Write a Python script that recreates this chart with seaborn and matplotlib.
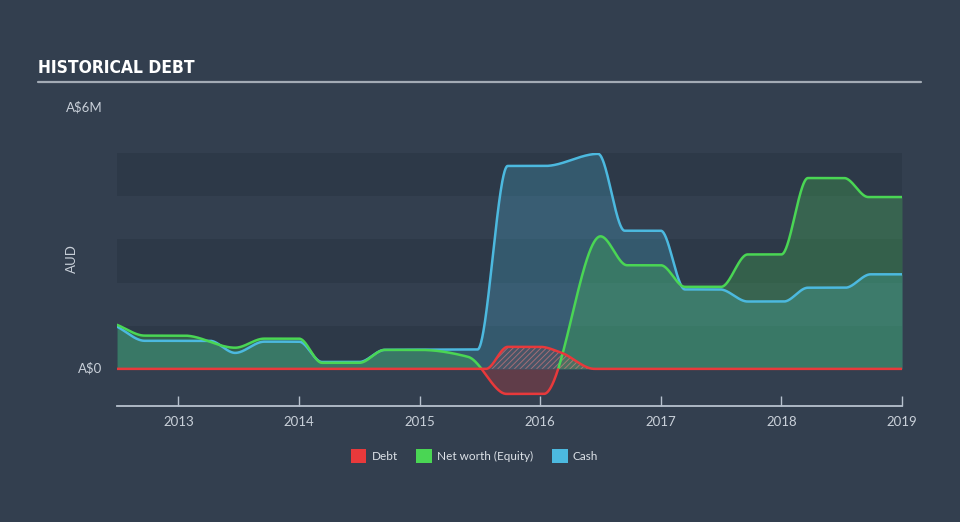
import numpy as np
import pandas as pd
import matplotlib
matplotlib.use("Agg")
import matplotlib.pyplot as plt
import seaborn as sns
from matplotlib.patches import Patch
from matplotlib.lines import Line2D
from matplotlib import font_manager as fm

# ---------------- data (AUD millions, x = year fraction) ----------------
cash_t = [2012.49, 2012.72, 2013.26, 2013.47, 2013.71, 2014.00, 2014.19, 2014.50,
          2014.71, 2015.48, 2015.73, 2016.04, 2016.48, 2016.70, 2017.00, 2017.20,
          2017.49, 2017.72, 2018.02, 2018.22, 2018.53, 2018.74, 2019.00]
cash_v = [0.98, 0.65, 0.65, 0.37, 0.63, 0.63, 0.16, 0.16,
          0.44, 0.45, 4.70, 4.70, 4.98, 3.20, 3.20, 1.84,
          1.84, 1.56, 1.56, 1.88, 1.88, 2.19, 2.19]

equity_t = [2012.49, 2012.72, 2013.05, 2013.47, 2013.71, 2014.00, 2014.19, 2014.50,
            2014.71, 2015.00, 2015.40, 2015.72, 2016.03, 2016.50, 2016.72, 2017.00,
            2017.20, 2017.50, 2017.72, 2018.00, 2018.22, 2018.52, 2018.72, 2019.00]
equity_v = [1.02, 0.77, 0.77, 0.49, 0.70, 0.70, 0.14, 0.14,
            0.44, 0.44, 0.28, -0.58, -0.58, 3.07, 2.40, 2.40,
            1.90, 1.90, 2.65, 2.65, 4.42, 4.42, 3.98, 3.98]

debt_t = [2012.49, 2015.55, 2015.73, 2016.00, 2016.17, 2016.45, 2019.00]
debt_v = [0.0, 0.0, 0.51, 0.51, 0.38, 0.0, 0.0]

year_ticks = [2013, 2014, 2015, 2016, 2017, 2018, 2019]
year_labels = ["2013", "2014", "2015", "2016", "2017", "2018", "2019"]
series_names = ["Debt", "Net worth (Equity)", "Cash"]

# ---------------- style ----------------
BG = "#333f4f"
BAND = "#2d3948"
RED = "#e8393b"
GREEN = "#4ad654"
BLUE = "#4cb9df"
TXT = "#c9d0d9"

sns.set_theme(style="dark")
plt.rcParams["font.family"] = ["Lato", "DejaVu Sans"]
plt.rcParams["hatch.linewidth"] = 0.7


def pick_title_font():
    cands = [("Liberation Sans Narrow", "normal"), ("DejaVu Sans", "condensed"),
             ("Roboto", "condensed"), ("Open Sans", "condensed"),
             ("Noto Sans", "condensed"), ("Roboto Condensed", "normal")]
    for fam, st in cands:
        try:
            path = fm.findfont(fm.FontProperties(family=fam, stretch=st, weight="bold"),
                               fallback_to_default=False)
        except Exception:
            continue
        low = path.lower()
        if "condensed" in low or "narrow" in low:
            return fam, st, 12.5
    return "Roboto", "normal", 12


def monotone(x, y, xs):
    """Monotone cubic (Fritsch-Carlson) curve through the read points."""
    x = np.asarray(x, float)
    y = np.asarray(y, float)
    h = np.diff(x)
    d = np.diff(y) / h
    n = len(x)
    m = np.zeros(n)
    m[0], m[-1] = d[0], d[-1]
    for k in range(1, n - 1):
        if d[k - 1] * d[k] <= 0:
            m[k] = 0.0
        else:
            w1 = 2 * h[k] + h[k - 1]
            w2 = h[k] + 2 * h[k - 1]
            m[k] = (w1 + w2) / (w1 / d[k - 1] + w2 / d[k])
    idx = np.clip(np.searchsorted(x, xs) - 1, 0, n - 2)
    t = (xs - x[idx]) / h[idx]
    h00 = 2 * t**3 - 3 * t**2 + 1
    h10 = t**3 - 2 * t**2 + t
    h01 = -2 * t**3 + 3 * t**2
    h11 = t**3 - t**2
    return (h00 * y[idx] + h10 * h[idx] * m[idx] + h01 * y[idx + 1]
            + h11 * h[idx] * m[idx + 1])


xs = np.linspace(2012.49, 2019.0, 2000)
cash_s = monotone(cash_t, cash_v, xs)
eq_s = monotone(equity_t, equity_v, xs)
debt_s = np.maximum(monotone(debt_t, debt_v, xs), 0)

fig = plt.figure(figsize=(9.6, 5.22), dpi=100, facecolor=BG)
ax = fig.add_axes([117 / 960, 116 / 522, 785 / 960, 253 / 522])
ax.set_facecolor(BG)
ax.set_xlim(2012.49, 2019.0)
ax.set_ylim(-0.86, 5.0)

for lo in (0, 2, 4):
    ax.axhspan(lo, lo + 1, color=BAND, lw=0, zorder=0)

# fills
ax.fill_between(xs, 0, cash_s, color=BLUE, alpha=0.25, lw=0, zorder=1)
ax.fill_between(xs, 0, np.maximum(eq_s, 0), color=GREEN, alpha=0.25, lw=0, zorder=1)
ax.fill_between(xs, np.minimum(eq_s, 0), 0, color=RED, alpha=0.25, lw=0, zorder=1)
ax.fill_between(xs, 0, debt_s, where=debt_s > 0.001, facecolor=(0.91, 0.22, 0.23, 0.10),
                edgecolor=(0.95, 0.5, 0.5, 0.55), hatch="//////", lw=0, zorder=2)

# lines
df = pd.DataFrame({"x": xs, "cash": cash_s, "eq": eq_s, "debt": debt_s})
sns.lineplot(data=df, x="x", y="cash", color=BLUE, lw=1.8, ax=ax, zorder=3)
pos = df[df["eq"] >= 0]
first = pos[pos["x"] < 2016.0]
second = pos[pos["x"] > 2016.0]
sns.lineplot(data=first, x="x", y="eq", color=GREEN, lw=1.8, ax=ax, zorder=4)
sns.lineplot(data=second, x="x", y="eq", color=GREEN, lw=1.8, ax=ax, zorder=4)
neg = df[(df["eq"] <= 0.0) & (df["x"] > 2015.3) & (df["x"] < 2016.3)]
sns.lineplot(data=neg, x="x", y="eq", color=RED, lw=1.8, ax=ax, zorder=4)
sns.lineplot(data=df, x="x", y="debt", color=RED, lw=1.8, ax=ax, zorder=5)

# axes styling
for s in ("top", "left", "right"):
    ax.spines[s].set_visible(False)
ax.spines["bottom"].set_visible(True)
ax.spines["bottom"].set_color("#b7c1ce")
ax.spines["bottom"].set_linewidth(1.3)
ax.spines["bottom"].set_position(("data", -0.86))
ax.set_xticks(year_ticks)
ax.set_xticklabels(year_labels)
ax.tick_params(axis="x", direction="in", length=7, width=1, color="#b7c1ce",
               labelcolor=TXT, labelsize=9.5, pad=7, bottom=True)
ax.set_yticks([])
ax.set_xlabel("")
ax.set_ylabel("")
ax.grid(False)

# texts
tfam, tst, tsize = pick_title_font()
fig.text(38 / 960, 1 - 68 / 522, "HISTORICAL DEBT", color="white", fontsize=tsize,
         fontweight="bold", family=[tfam, "DejaVu Sans"], fontstretch=tst,
         va="center", ha="left")
fig.add_artist(Line2D([38 / 960, 921 / 960], [1 - 82 / 522, 1 - 82 / 522],
                      color="#a3abb5", lw=1.6))
fig.text(103 / 960, 1 - 107 / 522, "A$6M", color=TXT, fontsize=9.5, ha="right", va="center")
fig.text(102 / 960, 1 - 368 / 522, "A$0", color=TXT, fontsize=9.5, ha="right", va="center")
fig.text(72 / 960, 1 - 259 / 522, "AUD", color=TXT, fontsize=9.5, ha="center",
         va="center", rotation=90)

handles = [Patch(facecolor=RED, edgecolor="none"),
           Patch(facecolor=GREEN, edgecolor="none"),
           Patch(facecolor=BLUE, edgecolor="none")]
fig.legend(handles, series_names, loc="center", bbox_to_anchor=(474.5 / 960, 1 - 456 / 522),
           ncol=3, frameon=False, fontsize=8.5, labelcolor="#dde2e8",
           handlelength=1.3, handleheight=1.35, columnspacing=1.6, handletextpad=0.45)

fig.savefig("out.png", dpi=100, facecolor=BG)
